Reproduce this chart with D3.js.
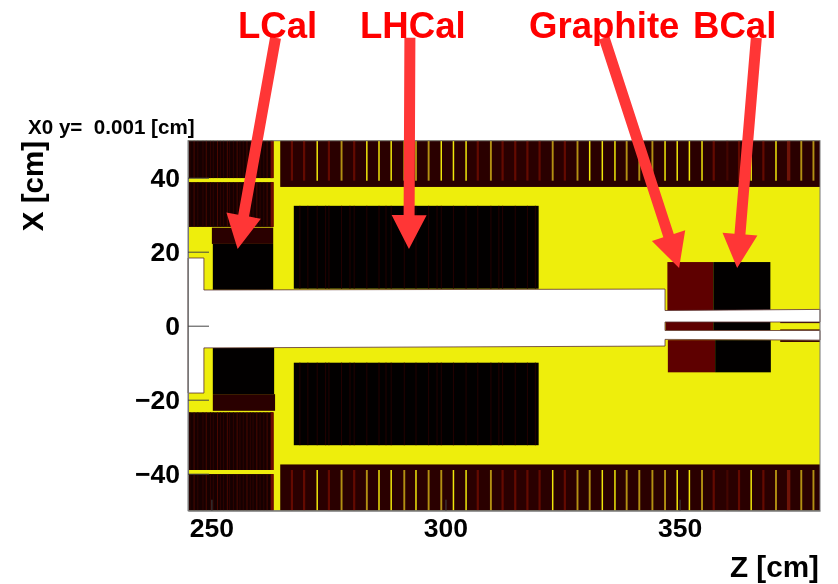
<!DOCTYPE html>
<html><head><meta charset="utf-8">
<script src="https://cdn.jsdelivr.net/npm/d3@7"></script>
<style>html,body{margin:0;padding:0;background:#fff}svg{display:block;filter:blur(0.4px)}text{font-family:"Liberation Sans",Arial,sans-serif;font-weight:bold}</style>
</head><body><svg id="c" width="838" height="584"></svg>
<script>
// Region boxes: [zMin, zMax, xMin, xMax] in cm
const darkBlocks = [[245,263.2,39.9,50],[245,263.2,26.7,38.8],[245,263.2,-39,-23.4],[245,263.2,-50,-40.1]];
const strips = [[264.7,380,37.5,50],[264.7,380,-50,-37.5]];
const lcalCaps = [[250.1,263.2,22.1,26.5],[250.3,263.6,-23,-18.5]];
const lcalBlack = [[250.3,263.2,9.7,22.1],[250.3,263.4,-18.5,-6]];
const lhcal = [[267.6,319.9,10,32.4],[267.6,319.9,-32.3,-10]];
const graphite = [[347.4,357.2,4,17.2],[347,357.2,-1.3,1],[347.5,357.6,-12.6,-3.9]];
const bcal = [[357.2,369.4,4,17.2],[357.2,369.4,-1.3,1],[357.6,369.5,-12.6,-3.9]];
const thinEdges = [[371.5,380,0.7,1.1],[371.5,380,-1.3,-1],[371.5,380,-4.4,-3.9]];
// Opening around the beam line: [z, x] outline
const hole = [[245,18.3],[248.4,18.3],[248.4,9.65],[346.9,9.9],[346.9,4.1],[380,4.4],[380,1],[346.9,1],[346.9,-1.3],[380,-1.3],[380,-3.9],[346.9,-3.7],[346.9,-5.5],[248.4,-6],[248.4,-18.2],[245,-18.2]];
// Vertical stripes in the outer strips
const stripeZ = [267.2,269.8,272.6,275.1,277.8,280.5,283.2,285.8,288.4,291.2,293.7,296.4,299.1,301.7,304.4,306.9,309.7,312.2,314.9,317.5,320.1,322.9,325.5,328.2,330.8,333.5,336.2,338.7,341.4,344.2,346.9,349.5,352.1,354.8,357.3,360.2,362.7,365.3,367.9,370.6,373.3,376,378.6];
const topKinds = ["r","r","y","r","m","r","y","y","y","y","m","m","y","y","y","r","m","r","r","r","r","m","r","m","y","y","y","m","m","m","y","y","y","y","r","d","r","y","r","y","w","m","m"];
const bottomKinds = ["r","r","y","r","m","r","m","y","y","m","y","m","m","y","y","r","m","r","r","r","r","y","r","m","m","y","y","m","m","m","m","y","y","m","r","d","r","y","r","m","w","m","m"];
const fineZ = [245.4,246.3,247.1,248.2,248.9,249.8,250.4,251.3,251.9,252.6,253.4,253.9,254.7,255.5,256.1,256.8,257.6,258.3,258.9,259.7,260.4,261.2,261.9,262.7,263];
const lhcalFineZ = [268.9,270.6,272.6,274.4,275.1,277.8,279.6,280.5,283.2,285.8,287.3,288.4,291.2,293.7,296.4,298.2,299.1,301.7,304.4,306.9,309.7,311.4,312.2,314.9,317.5,319.2];
const ticksZ = [250,300,350];
const ticksX = [-40,-20,0,20,40];
const labels = ["LCal","LHCal","Graphite","BCal"];
const labelLeft = [238,360,529,693];
const arrowFrom = [[263.7,77.8],[292.4,77.8],[333.9,77.8],[366.4,77.8]];
const arrowTo = [[255.6,20.7],[292.2,20.7],[349.9,15.6],[362.3,15.6]];

const svg = d3.select("#c");
const z = d3.scaleLinear().domain([245,380]).range([188,820]);
const x = d3.scaleLinear().domain([-50,50]).range([510.7,140.7]);
const kindColor = {r:"#640a00",d:"#440500",w:"#6e1408",y:"#f0e60a",m:"#b39012"};
const kindWidth = {r:2.2,d:2.2,w:3.4,y:1.5,m:1.9};
const box = (sel,data,fill)=>sel.append("g").selectAll("rect").data(data).join("rect")
  .attr("x",d=>z(d[0])).attr("width",d=>z(d[1])-z(d[0]))
  .attr("y",d=>x(d[3])).attr("height",d=>x(d[2])-x(d[3])).attr("fill",fill);

svg.append("rect").attr("x",z(245)).attr("y",x(50)).attr("width",z(380)-z(245)).attr("height",x(-50)-x(50)).attr("fill","#eeee0c");
box(svg,darkBlocks,"#160000");
// fine lines inside the forward blocks
darkBlocks.forEach(b=>{
  svg.append("g").selectAll("line").data(fineZ).join("line")
    .attr("x1",d=>z(d)).attr("x2",d=>z(d)).attr("y1",x(b[3])).attr("y2",x(b[2]))
    .attr("stroke",(d,i)=>d==263?"#6e0c00":(i%3==1?"#4a0800":"#300300")).attr("stroke-width",d=>d==263?3:1);
});
box(svg,strips,"#2a0000");
box(svg,lcalCaps,"#2a0000");
box(svg,lcalBlack,"#020000");
box(svg,lhcal,"#020000");
lhcal.forEach(b=>{
  svg.append("g").selectAll("line").data(lhcalFineZ).join("line")
    .attr("x1",d=>z(d)).attr("x2",d=>z(d)).attr("y1",x(b[3])).attr("y2",x(b[2]))
    .attr("stroke","#240100").attr("stroke-width",1);
});
box(svg,graphite,"#5e0000");
box(svg,bcal,"#020000");
box(svg,thinEdges,"#3a0800");
// stripes
[[topKinds,50,39.2],[bottomKinds,-39,-50]].forEach(([kinds,a,b])=>{
  svg.append("g").selectAll("line").data(stripeZ).join("line")
    .attr("x1",d=>z(d)).attr("x2",d=>z(d)).attr("y1",x(a)).attr("y2",x(b))
    .attr("stroke",(d,i)=>kindColor[kinds[i]]).attr("stroke-width",(d,i)=>kindWidth[kinds[i]]);
});
svg.append("polygon").attr("points",hole.map(d=>[z(d[0]),x(d[1])].join(",")).join(" "))
  .attr("fill","#fff").attr("stroke","#5a3030").attr("stroke-width",0.8);
// frame
svg.append("rect").attr("x",z(245)).attr("y",x(50)).attr("width",z(380)-z(245)).attr("height",x(-50)-x(50))
  .attr("fill","none").attr("stroke","#777").attr("stroke-width",1);

const xAxis = d3.axisBottom(z).tickValues(ticksZ).tickSizeInner(-11).tickSizeOuter(0).tickPadding(7.5).tickFormat(d3.format("d"));
const yAxis = d3.axisLeft(x).tickValues(ticksX).tickSizeInner(-21).tickSizeOuter(0).tickPadding(8).tickFormat(d=>d<0?"\u2212"+Math.abs(d):d);
[svg.append("g").attr("transform",`translate(0,${x(-50)})`).call(xAxis),
 svg.append("g").attr("transform",`translate(${z(245)},0)`).call(yAxis)].forEach(g=>{
  g.select(".domain").attr("stroke","#777");
  g.selectAll(".tick line").attr("stroke","#444").attr("stroke-width",1);
  g.selectAll("text").attr("fill","#000").style("font-size","26.5px")
   .style("font-family",'"Liberation Sans",Arial,sans-serif').style("font-weight","bold");
});

svg.append("text").attr("x",819).attr("y",577).attr("text-anchor","end").style("font-size","29.7px").text("Z [cm]");
svg.append("text").attr("transform","translate(43,141) rotate(-90)").attr("text-anchor","end").style("font-size","29.5px").text("X [cm]");
svg.append("text").attr("x",28).attr("y",134).attr("xml:space","preserve").style("white-space","pre").style("font-size","20.6px").text("X0 y=  0.001 [cm]");

// arrows
const shaft=11, headW=35, headL=34;
arrowFrom.forEach((f,i)=>{
  const ax=z(f[0]),ay=x(f[1]),bx=z(arrowTo[i][0]),by=x(arrowTo[i][1]);
  const L=Math.hypot(bx-ax,by-ay),ux=(bx-ax)/L,uy=(by-ay)/L,px=-uy,py=ux;
  const cx=bx-ux*headL,cy=by-uy*headL;
  const pts=[[ax+px*shaft/2,ay+py*shaft/2],[cx+px*shaft/2,cy+py*shaft/2],[cx+px*headW/2,cy+py*headW/2],[bx,by],
             [cx-px*headW/2,cy-py*headW/2],[cx-px*shaft/2,cy-py*shaft/2],[ax-px*shaft/2,ay-py*shaft/2]];
  svg.append("polygon").attr("points",pts.map(p=>p.join(",")).join(" ")).attr("fill","#ff3636");
});
svg.append("g").selectAll("text").data(labels).join("text")
  .attr("x",(d,i)=>labelLeft[i]).attr("y",37.5).attr("fill","#ff0000").style("font-size","36.6px").text(d=>d);
</script></body></html>
